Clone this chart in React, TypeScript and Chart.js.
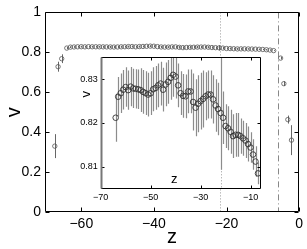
import React, { useEffect, useRef } from "react";
import { Chart, registerables } from "chart.js";
Chart.register(...registerables);

// ---- data ----
const leftZ = [-67.3, -66.4, -65.4];
const leftV = [0.33, 0.728, 0.768];
const leftErr = [0.06, 0.025, 0.022];

const rightZ = [-5.1, -4.2, -3.1, -2.1];
const rightV = [0.771, 0.643, 0.463, 0.36];
const rightErr = [0.006, 0.012, 0.02, 0.075];

const insetZ = [
  -64, -63, -62, -61, -60, -59, -58, -57, -56, -55,
  -54, -53, -52, -51, -50, -49, -48, -47, -46, -45,
  -44, -43, -42, -41, -40, -39, -38, -37, -36, -35,
  -34, -33, -32, -31, -30, -29, -28, -27, -26, -25,
  -24, -23, -22, -21, -20, -19, -18, -17, -16, -15,
  -14, -13, -12, -11, -10, -9, -8, -7,
];
const insetV = [
  0.8212, 0.826, 0.8268, 0.8276, 0.8282, 0.8275, 0.8283, 0.8279, 0.8278, 0.8277,
  0.8275, 0.8271, 0.8268, 0.8265, 0.8268, 0.8277, 0.828, 0.8286, 0.829, 0.8276,
  0.8288, 0.8294, 0.8303, 0.831, 0.8306, 0.8286, 0.8268, 0.8262, 0.8261, 0.8272,
  0.8272, 0.8248, 0.8235, 0.8244, 0.825, 0.8255, 0.8261, 0.8265, 0.8265, 0.8254,
  0.824, 0.8232, 0.8223, 0.8212, 0.8193, 0.8188, 0.818, 0.817, 0.8173, 0.8173,
  0.817, 0.8165, 0.816, 0.8152, 0.8144, 0.8128, 0.8112, 0.8085,
];
const insetErr = [
  0.0055, 0.0045, 0.0045, 0.0045, 0.0045, 0.0045, 0.0045, 0.0045, 0.0045, 0.0045,
  0.005, 0.005, 0.005, 0.005, 0.005, 0.005, 0.005, 0.005, 0.005, 0.005,
  0.005, 0.005, 0.005, 0.005, 0.005, 0.005, 0.005, 0.005, 0.005, 0.005,
  0.005, 0.0065, 0.0065, 0.0065, 0.0065, 0.0065, 0.0055, 0.0055, 0.0055, 0.0055,
  0.006, 0.006, 0.013, 0.006, 0.005, 0.005, 0.005, 0.005, 0.005, 0.005,
  0.004, 0.004, 0.004, 0.004, 0.0035, 0.0035, 0.0035, 0.0025,
];

const mainXTicks = [-60, -40, -20, 0];
const mainYTicks = [0, 0.2, 0.4, 0.6, 0.8, 1];
const insetXTicks = [-70, -50, -30, -10];
const insetYTicks = [0.81, 0.82, 0.83];
const mainXRange = [-70, 0];
const mainYRange = [0, 1];
const insetXRange = [-70, -6];
const insetYRange = [0.805, 0.835];
const dottedLineZ = [-21.8];
const dashDotLineZ = [-5.7];
const xLabel = "z";
const yLabel = "v";

const FONT = "'Liberation Sans', Arial, Helvetica, sans-serif";
const fmt = (v: number) => String(v).replace("-", "\u2212");

const errorBarPlugin = {
  id: "errbars",
  beforeDatasetsDraw(chart: any) {
    const { ctx, chartArea } = chart;
    const xs = chart.scales.x;
    const ys = chart.scales.y;
    ctx.save();
    ctx.beginPath();
    ctx.rect(chartArea.left, chartArea.top, chartArea.width, chartArea.height);
    ctx.clip();
    chart.data.datasets.forEach((ds: any) => {
      if (!ds.errors) return;
      ctx.strokeStyle = ds.errorColor;
      ctx.lineWidth = ds.errorWidth;
      ds.data.forEach((p: any, j: number) => {
        const e = ds.errors[j];
        const x = Math.round(xs.getPixelForValue(p.x)) + 0.5;
        ctx.beginPath();
        ctx.moveTo(x, ys.getPixelForValue(p.y - e));
        ctx.lineTo(x, ys.getPixelForValue(p.y + e));
        ctx.stroke();
      });
    });
    ctx.restore();
  },
};

const refLinePlugin = {
  id: "reflines",
  beforeDatasetsDraw(chart: any, _a: any, opts: any) {
    const { ctx, chartArea } = chart;
    const xs = chart.scales.x;
    ctx.save();
    (opts.lines || []).forEach((l: any) => {
      l.values.forEach((z: number) => {
        const x = Math.round(xs.getPixelForValue(z)) + 0.5;
        ctx.strokeStyle = l.color;
        ctx.lineWidth = 1;
        ctx.setLineDash(l.dash);
        ctx.beginPath();
        ctx.moveTo(x, chartArea.top);
        ctx.lineTo(x, chartArea.bottom);
        ctx.stroke();
      });
    });
    ctx.restore();
  },
};

const framePlugin = {
  id: "frame",
  beforeDraw(chart: any, _a: any, opts: any) {
    if (!opts.fill) return;
    const { ctx, chartArea } = chart;
    ctx.save();
    ctx.fillStyle = opts.fill;
    ctx.fillRect(chartArea.left, chartArea.top, chartArea.width, chartArea.height);
    ctx.restore();
  },
  afterDraw(chart: any, _a: any, opts: any) {
    const { ctx, chartArea } = chart;
    const { left, right, top, bottom } = chartArea;
    const L = Math.round(left) + 0.5;
    const R = Math.round(right) - 0.5;
    const T = Math.round(top) + 0.5;
    const B = Math.round(bottom) - 0.5;
    const tl = opts.tickLen;
    ctx.save();
    ctx.lineWidth = 1;
    ctx.strokeStyle = opts.color;
    const xs = chart.scales.x;
    const ys = chart.scales.y;
    ctx.beginPath();
    xs.ticks.forEach((t: any) => {
      const x = Math.round(xs.getPixelForValue(t.value)) + 0.5;
      ctx.moveTo(x, B);
      ctx.lineTo(x, B - tl);
      ctx.moveTo(x, T);
      ctx.lineTo(x, T + tl);
    });
    ys.ticks.forEach((t: any) => {
      const y = Math.round(ys.getPixelForValue(t.value)) + 0.5;
      ctx.moveTo(L, y);
      ctx.lineTo(L + tl, y);
      ctx.moveTo(R, y);
      ctx.lineTo(R - tl, y);
    });
    ctx.stroke();
    // top, right, bottom
    ctx.beginPath();
    ctx.moveTo(L, T);
    ctx.lineTo(R, T);
    ctx.lineTo(R, B);
    ctx.lineTo(L, B);
    ctx.stroke();
    // left
    ctx.strokeStyle = opts.leftColor;
    ctx.lineWidth = opts.leftWidth;
    ctx.beginPath();
    ctx.moveTo(L, T);
    ctx.lineTo(L, B);
    ctx.stroke();
    ctx.restore();
  },
};

const insetLabelPlugin = {
  id: "insetlabels",
  afterDraw(chart: any) {
    const { ctx, chartArea } = chart;
    ctx.save();
    ctx.fillStyle = "#000";
    ctx.font = `13px ${FONT}`;
    ctx.textAlign = "center";
    ctx.textBaseline = "middle";
    ctx.fillText(xLabel, chartArea.left + chartArea.width * 0.46, chartArea.bottom - 9);
    ctx.translate(chartArea.left - 14, chartArea.top + 37);
    ctx.rotate(-Math.PI / 2);
    ctx.fillText(yLabel, 0, 0);
    ctx.restore();
  },
};

export default function App() {
  const mainRef = useRef<HTMLCanvasElement>(null);
  const insetRef = useRef<HTMLCanvasElement>(null);

  useEffect(() => {
    const mainData = [
      ...leftZ.map((z, i) => ({ x: z, y: leftV[i] })),
      ...insetZ.map((z, i) => ({ x: z, y: insetV[i] })),
      ...rightZ.map((z, i) => ({ x: z, y: rightV[i] })),
    ];
    const mainErr = [...leftErr, ...insetErr, ...rightErr];

    const main = new Chart(mainRef.current!, {
      type: "scatter",
      data: {
        datasets: [
          {
            data: mainData,
            errors: mainErr,
            errorColor: "#666",
            errorWidth: 1,
            pointRadius: 2.2,
            pointBorderWidth: 0.8,
            borderColor: "#555",
            backgroundColor: "rgba(255,255,255,0)",
          } as any,
        ],
      },
      options: {
        animation: false,
        responsive: false,
        devicePixelRatio: 1,
        layout: { padding: { top: 11, right: 7, left: 0, bottom: 0 } },
        plugins: {
          legend: { display: false },
          tooltip: { enabled: false },
          reflines: {
            lines: [
              { values: dottedLineZ, color: "#999", dash: [1, 2] },
              { values: dashDotLineZ, color: "#888", dash: [6, 3, 1, 3] },
            ],
          },
          frame: { color: "#000", leftColor: "#000", leftWidth: 1, tickLen: 4 },
        } as any,
        scales: {
          x: {
            type: "linear",
            min: mainXRange[0],
            max: mainXRange[1],
            afterBuildTicks: (s: any) => {
              s.ticks = mainXTicks.map((v) => ({ value: v }));
            },
            afterFit: (s: any) => {
              s.height = 37;
            },
            grid: { display: false, drawTicks: false },
            border: { display: false },
            ticks: {
              padding: 4,
              color: "#000",
              font: { size: 14, family: FONT },
              callback: (v: any) => fmt(v),
              maxRotation: 0,
            },
            title: {
              display: true,
              text: xLabel,
              color: "#000",
              font: { size: 20, family: FONT },
              padding: { top: 0, bottom: 0 },
            },
          },
          y: {
            type: "linear",
            min: mainYRange[0],
            max: mainYRange[1],
            afterBuildTicks: (s: any) => {
              s.ticks = mainYTicks.map((v) => ({ value: v }));
            },
            afterFit: (s: any) => {
              s.width = 45;
            },
            grid: { display: false, drawTicks: false },
            border: { display: false },
            ticks: {
              padding: 4,
              color: "#000",
              font: { size: 14, family: FONT },
              callback: (v: any) => fmt(v),
            },
            title: {
              display: true,
              text: yLabel,
              color: "#000",
              font: { size: 20, family: FONT },
              padding: { top: 2, bottom: 0 },
            },
          },
        },
      },
      plugins: [refLinePlugin, errorBarPlugin, framePlugin],
    } as any);

    const inset = new Chart(insetRef.current!, {
      type: "scatter",
      data: {
        datasets: [
          {
            data: insetZ.map((z, i) => ({ x: z, y: insetV[i] })),
            errors: insetErr,
            errorColor: "#8c8c8c",
            errorWidth: 1.2,
            pointRadius: 2.8,
            pointBorderWidth: 0.9,
            borderColor: "#333",
            backgroundColor: "rgba(255,255,255,0)",
          } as any,
        ],
      },
      options: {
        animation: false,
        responsive: false,
        devicePixelRatio: 1,
        layout: { padding: { top: 12.3, right: 9.5, left: 0, bottom: 0 } },
        plugins: {
          legend: { display: false },
          tooltip: { enabled: false },
          reflines: {
            lines: [{ values: dottedLineZ, color: "#999", dash: [1, 2] }],
          },
          frame: { color: "#000", leftColor: "#777", leftWidth: 2, tickLen: 3, fill: "#fff" },
        } as any,
        scales: {
          x: {
            type: "linear",
            min: insetXRange[0],
            max: insetXRange[1],
            afterBuildTicks: (s: any) => {
              s.ticks = insetXTicks.map((v) => ({ value: v }));
            },
            afterFit: (s: any) => {
              s.height = 21.3;
            },
            grid: { display: false, drawTicks: false },
            border: { display: false },
            ticks: {
              padding: 3,
              color: "#000",
              font: { size: 9, family: FONT },
              callback: (v: any) => fmt(v),
              maxRotation: 0,
            },
          },
          y: {
            type: "linear",
            min: insetYRange[0],
            max: insetYRange[1],
            afterBuildTicks: (s: any) => {
              s.ticks = insetYTicks.map((v) => ({ value: v }));
            },
            afterFit: (s: any) => {
              s.width = 40.7;
            },
            grid: { display: false, drawTicks: false },
            border: { display: false },
            ticks: {
              padding: 3,
              color: "#000",
              font: { size: 9, family: FONT },
              callback: (v: any) => String(v),
            },
          },
        },
      },
      plugins: [framePlugin, refLinePlugin, errorBarPlugin, insetLabelPlugin],
    } as any);

    return () => {
      main.destroy();
      inset.destroy();
    };
  }, []);

  return (
    <div style={{ position: "fixed", left: 0, top: 0, width: 307, height: 249, background: "#fff" }}>
      <canvas
        ref={mainRef}
        width={307}
        height={249}
        style={{ position: "absolute", left: 0, top: 0, width: 307, height: 249 }}
      />
      <canvas
        ref={insetRef}
        width={210}
        height={165}
        style={{ position: "absolute", left: 60, top: 45, width: 210, height: 165 }}
      />
    </div>
  );
}
